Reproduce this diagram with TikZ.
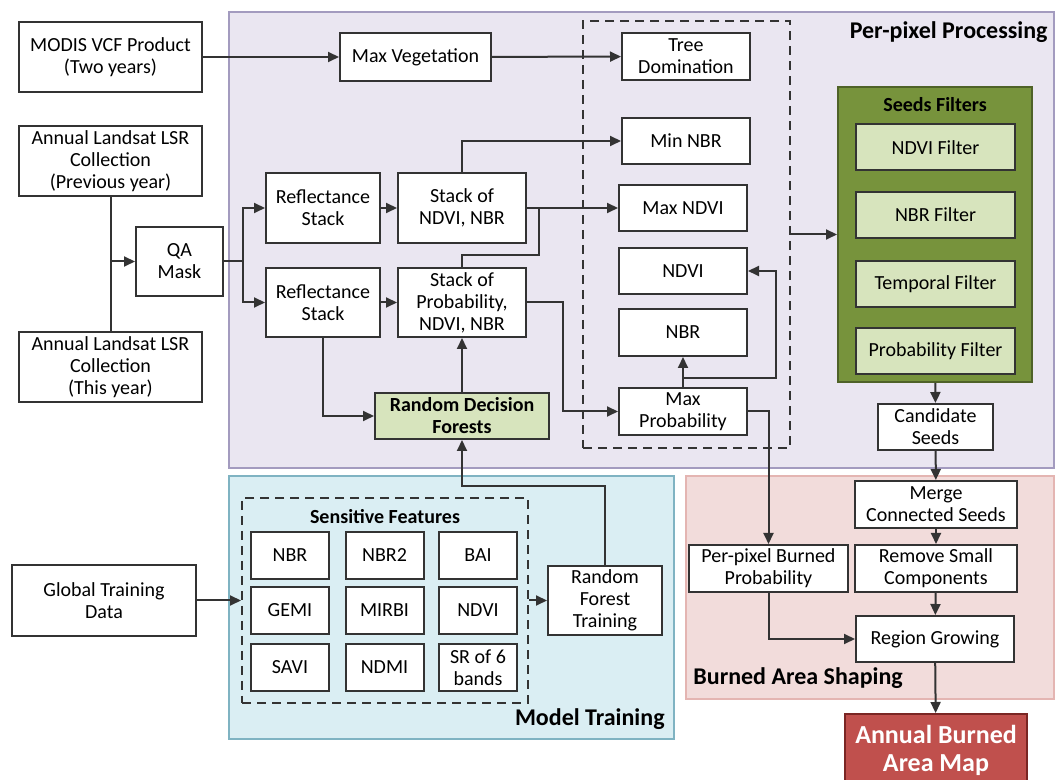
\documentclass[tikz,border=0pt]{standalone}
\usepackage{fontspec}
\setmainfont{Carlito}
\usetikzlibrary{positioning}
\usetikzlibrary{arrows.meta}

\definecolor{boxLine}{HTML}{333333}
\definecolor{ppFill}{HTML}{EAE6F1}
\definecolor{ppLine}{HTML}{A39BBF}
\definecolor{mtFill}{HTML}{DAEEF3}
\definecolor{mtLine}{HTML}{7FB3C2}
\definecolor{baFill}{HTML}{F2DCDB}
\definecolor{baLine}{HTML}{E4B5B2}
\definecolor{seedsFill}{HTML}{77933C}
\definecolor{seedsLine}{HTML}{4F6228}
\definecolor{lightGreen}{HTML}{D7E4BD}
\definecolor{burnRed}{HTML}{C0504D}
\definecolor{burnLine}{HTML}{7A2624}

\begin{document}
\begin{tikzpicture}[x=0.5pt,y=-0.5pt,
    box/.style={draw=boxLine, line width=1pt, fill=white, align=center, inner sep=1pt,
        font=\fontsize{10}{11}\selectfont},
    sz/.style 2 args={minimum width=#1*0.5pt, minimum height=#2*0.5pt},
    region/.style={draw=#1Line, fill=#1Fill, line width=1pt, anchor=north west, inner sep=0pt},
    group/.style={draw=boxLine, line width=1pt, dash pattern=on 4.5pt off 3pt, inner sep=0pt},
    title/.style={font=\bfseries\fontsize{12}{14}\selectfont, inner sep=0pt},
    flow/.style={draw=boxLine, line width=1pt, -{Triangle[length=5.5pt,width=5pt]}},
    link/.style={draw=boxLine, line width=1pt}]
    \useasboundingbox (0,0) rectangle (1056,780);

    \node[region=pp, sz={825}{456}] (perPixel) at (228,11) {};
    \node[region=mt, sz={445}{263}] (modelTraining) at (228,475) {};
    \node[region=ba, sz={368}{223}] (burnedArea) at (685,475) {};
    \node[title, anchor=east] (perPixelLabel) at (1048,32) {Per-pixel Processing};
    \node[title, anchor=east] (modelLabel) at (665,719) {Model Training};
    \node[title, anchor=west] (burnedLabel) at (693,678) {Burned Area Shaping};

    \node[group, sz={207}{427}] (ppGroup) at (686.5,234.5) {};
    \node[group, sz={286}{205}] (featGroup) at (385,600.5) {};
    \node[font=\bfseries\fontsize{10}{12}\selectfont] (featTitle) at (385,517) {Sensitive Features};

    \node[box, sz={183}{70}] (modisVcf) at (110.5,57) {MODIS VCF Product\\(Two years)};
    \node[box, sz={151}{48}] (maxVeg) at (415.5,57) {Max Vegetation};
    \node[box, sz={128}{47}] (treeDom) at (686,56.5) {Tree\\Domination};
    \node[box, sz={183}{70}] (landsatPrev) at (110.5,161) {Annual Landsat LSR\\Collection\\(Previous year)};
    \node[box, sz={183}{70}] (landsatThis) at (110.5,367) {Annual Landsat LSR\\Collection\\(This year)};
    \node[box, sz={87}{69}] (qaMask) at (179.5,261.5) {QA\\Mask};
    \node[box, sz={114}{70}] (reflA) at (323,208) {Reflectance\\Stack};
    \node[box, sz={114}{69}] (reflB) at (323,302.5) {Reflectance\\Stack};
    \node[box, sz={128}{70}] (stackNdvi) at (462,208) {Stack of\\NDVI, NBR};
    \node[box, sz={128}{69}] (stackProb) at (462,302.5) {Stack of\\Probability,\\NDVI, NBR};
    \node[box, fill=lightGreen, font=\bfseries\fontsize{10}{11}\selectfont, sz={174}{46}] (rdf) at (462,416) {Random Decision\\Forests};

    \node[box, sz={128}{46}] (minNbr) at (686,141) {Min NBR};
    \node[box, sz={128}{46}] (maxNdvi) at (683,208) {Max NDVI};
    \node[box, sz={128}{46}] (ndvi) at (683,271) {NDVI};
    \node[box, sz={128}{47}] (nbr) at (683,332.5) {NBR};
    \node[box, sz={128}{47}] (maxProb) at (683,411.5) {Max\\Probability};

    \node[draw=seedsLine, fill=seedsFill, line width=1pt, sz={194}{295}] (seedsFilters) at (935,234.5) {};
    \node[font=\bfseries\fontsize{10}{12}\selectfont] (seedsTitle) at (935,105) {Seeds Filters};
    \foreach \fname/\ftext/\fy in {ndviFilter/NDVI Filter/147.5, nbrFilter/NBR Filter/215,
        tempFilter/Temporal Filter/284, probFilter/Probability Filter/351.5}
        \node[box, fill=lightGreen, sz={159}{46}] (\fname) at (935.5,\fy) {\ftext};

    \node[box, sz={115}{46}] (candSeeds) at (935.5,427) {Candidate\\Seeds};
    \node[box, sz={162}{47}] (mergeSeeds) at (936,504.5) {Merge\\Connected Seeds};
    \node[box, sz={162}{47}] (removeSmall) at (936,568.5) {Remove Small\\Components};
    \node[box, sz={159}{47}] (burnProb) at (768.5,568.5) {Per-pixel Burned\\Probability};
    \node[box, sz={158}{46}] (regionGrow) at (935,639) {Region Growing};
    \node[box, fill=burnRed, draw=burnLine, text=white, font=\bfseries\fontsize{13}{14}\selectfont,
        sz={182}{72}] (annualMap) at (936,750) {Annual Burned\\Area Map};

    \node[box, sz={184}{71}] (globalData) at (104,600.5) {Global Training\\Data};
    \foreach \fname/\ftext/\fx/\fy in {fNbr/NBR/290/555.5, fNbrTwo/NBR2/384.5/555.5, fBai/BAI/478/555.5,
        fGemi/GEMI/290/610.5, fMirbi/MIRBI/384.5/610.5, fNdvi/NDVI/478/610.5,
        fSavi/SAVI/290/667.5, fNdmi/NDMI/384.5/667.5, fSr/SR of 6\\bands/478/667.5}
        \node[box, sz={78}{47}] (\fname) at (\fx,\fy) {\ftext};
    \node[box, sz={114}{69}] (rfTrain) at (605,600.5) {Random\\Forest\\Training};

    \coordinate (qaFork) at (243,261.5);
    \coordinate (probJoin) at (539,255);
    \coordinate (ndviTurn) at (776,378);
    \coordinate (trainTurn) at (462,486);

    \draw[flow] (modisVcf) -- (maxVeg);
    \draw[flow] (maxVeg) -- (treeDom);
    \draw[link] (landsatPrev) -- (landsatThis);
    \draw[flow] (landsatPrev.south |- qaMask.west) -- (qaMask);
    \draw[link] (qaMask) -- (qaFork);
    \draw[flow] (qaFork) |- (reflA);
    \draw[flow] (qaFork) |- (reflB);
    \draw[flow] (reflA) -- (stackNdvi);
    \draw[flow] (reflB) -- (stackProb);
    \draw[flow] (reflB.south) |- (rdf);
    \draw[flow] (rdf) -- (stackProb);
    \draw[flow] (rfTrain.north) |- (trainTurn) -- (rdf);
    \draw[flow] (stackNdvi.north) |- (minNbr);
    \draw[flow] (stackNdvi) -- (maxNdvi);
    \draw[link] (stackProb.north) |- (probJoin) -- (probJoin |- stackNdvi.east);
    \draw[flow] (stackProb.east) -- ++(36,0) |- (maxProb);
    \draw[flow] (maxProb) -- (nbr);
    \draw[flow] (maxProb.north |- ndviTurn) -- (ndviTurn) |- (ndvi);
    \draw[flow] (maxProb.east) -| (burnProb);
    \draw[flow] (ppGroup) -- (seedsFilters);
    \draw[flow] (seedsFilters) -- (candSeeds);
    \draw[flow] (candSeeds) -- (mergeSeeds);
    \draw[flow] (mergeSeeds) -- (removeSmall);
    \draw[flow] (removeSmall) -- (regionGrow);
    \draw[flow] (burnProb.south) |- (regionGrow);
    \draw[flow] (regionGrow) -- (annualMap);
    \draw[flow] (globalData) -- (featGroup);
    \draw[flow] (featGroup) -- (rfTrain);
\end{tikzpicture}
\end{document}
